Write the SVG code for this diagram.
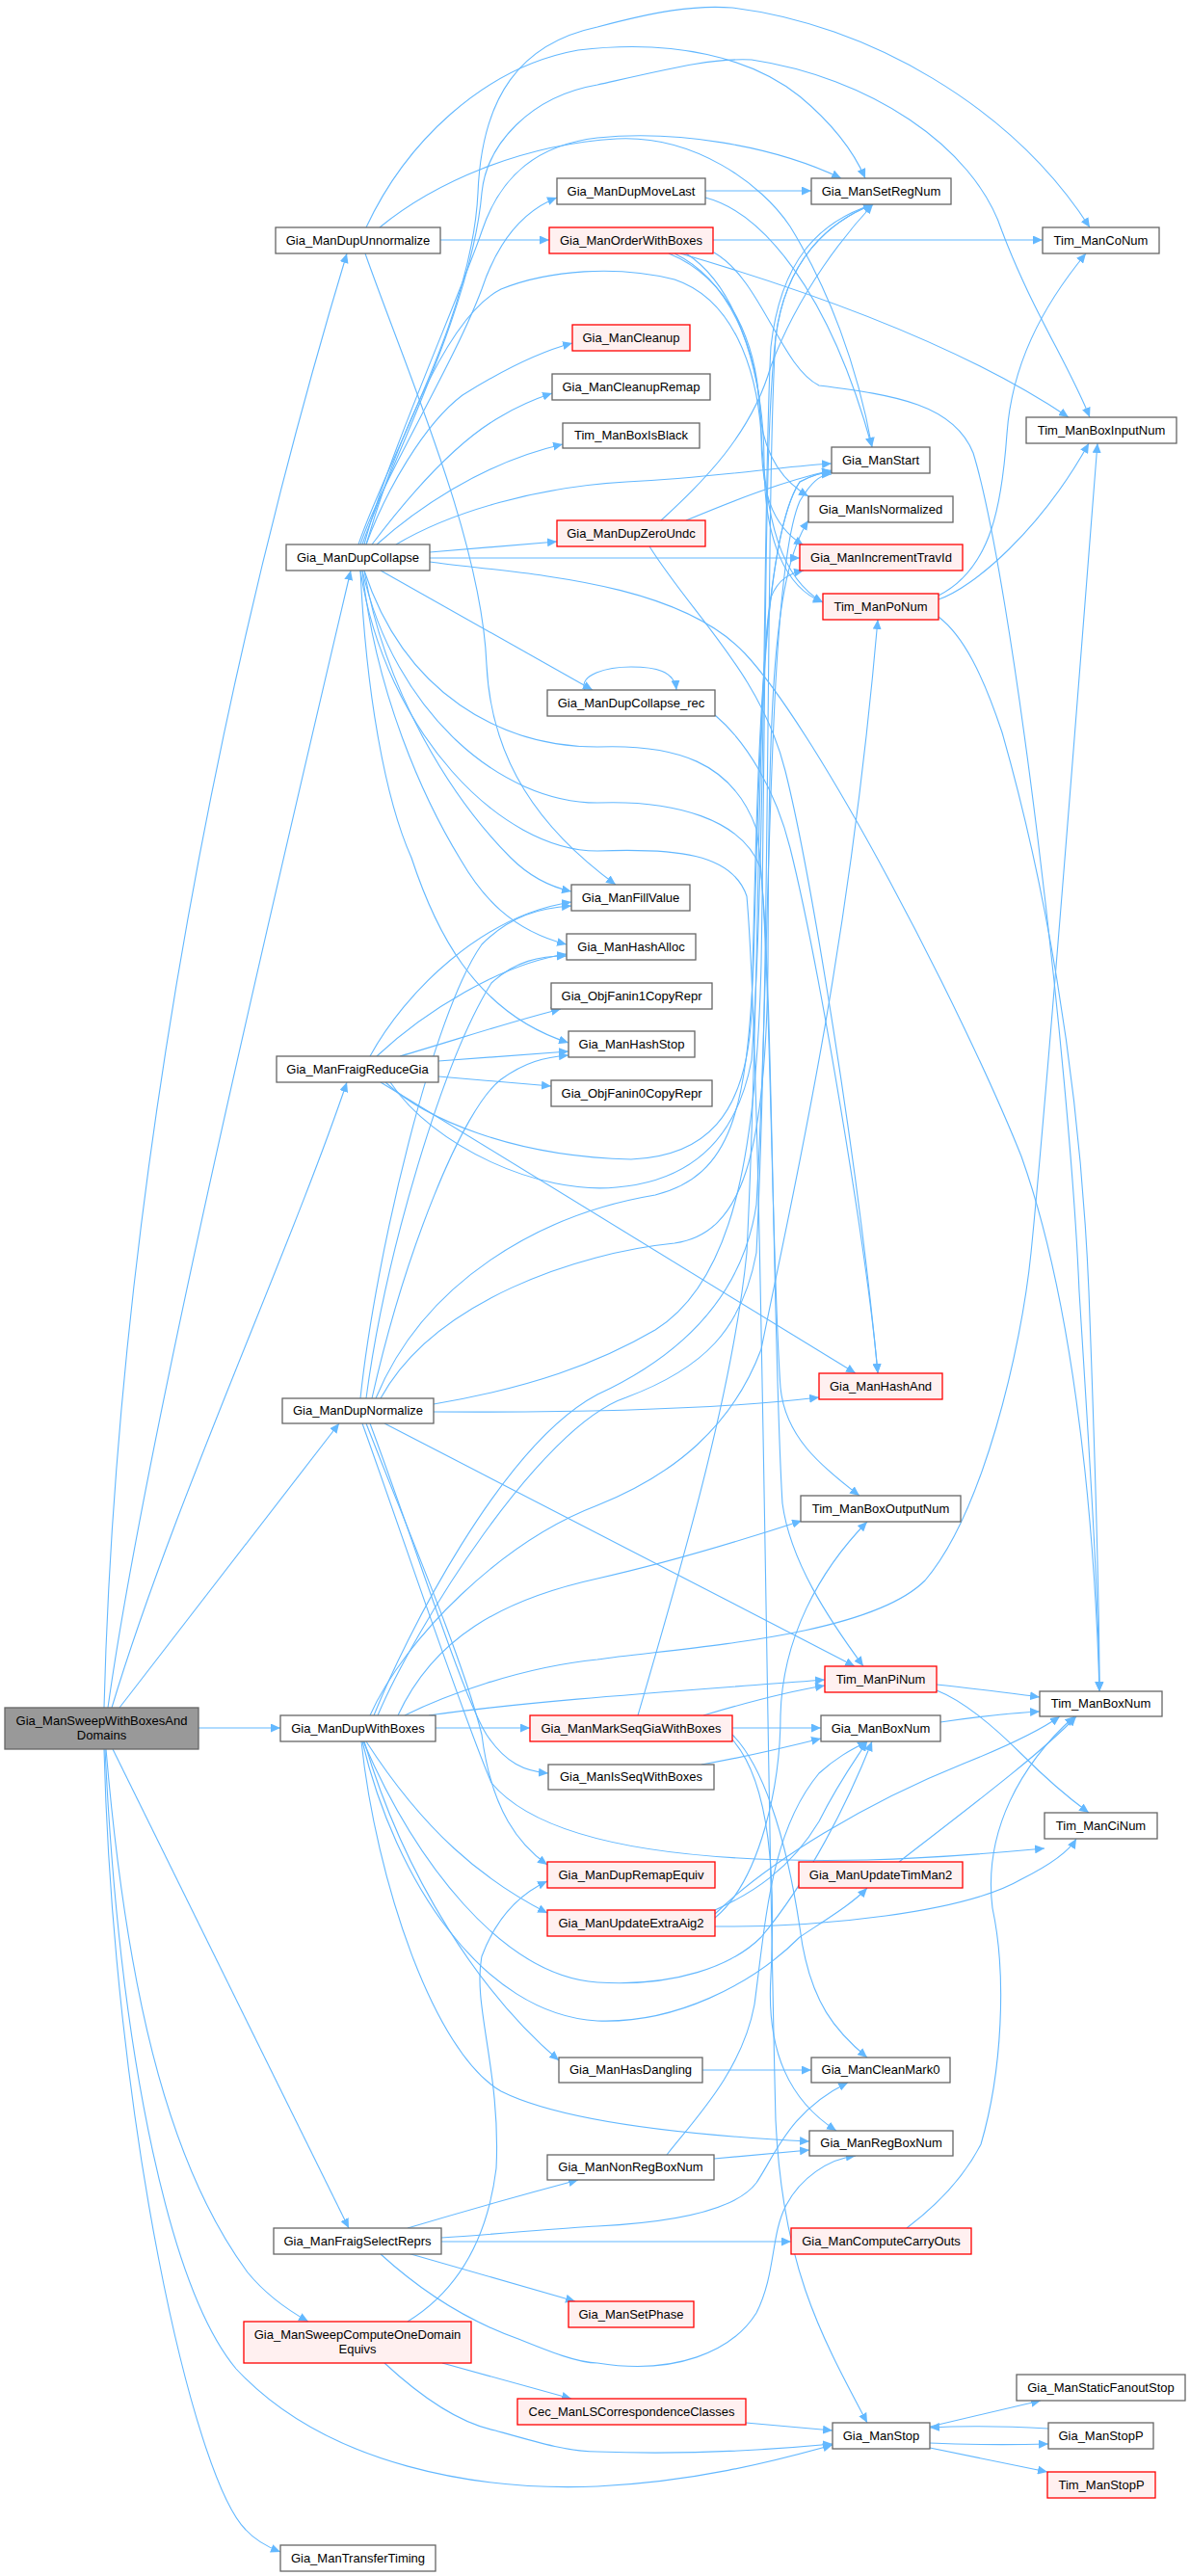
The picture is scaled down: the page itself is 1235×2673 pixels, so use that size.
<svg xmlns="http://www.w3.org/2000/svg" width="1235" height="2673" viewBox="0 0 1235 2673">
<defs>
<marker id="ah" markerWidth="11" markerHeight="9" refX="10" refY="4.5" orient="auto" markerUnits="userSpaceOnUse"><path d="M0,0 L10,4.5 L0,9 z" fill="#63b8ff"/></marker>
</defs>
<style>
.n rect{fill:#ffffff;stroke:#666666;stroke-width:1.3}
.r rect{fill:#fff0f0;stroke:#ff0000;stroke-width:1.3}
.root rect{fill:#999999;stroke:#666666;stroke-width:1.3}
text{font-family:"Liberation Sans",Arial,sans-serif;font-size:13px;fill:#000000;text-anchor:middle}
#edges path{fill:none;stroke:#63b8ff;stroke-width:1.1;marker-end:url(#ah)}
</style>
<rect width="1235" height="2673" fill="#ffffff"/>
<g id="edges">
<path d="M108,1772 C120,1300 210,760 360,263"/>
<path d="M112,1772 C150,1500 280,950 364,592"/>
<path d="M116,1772 C180,1560 300,1300 360,1123"/>
<path d="M124,1772 L352,1477"/>
<path d="M206,1793 L291,1793"/>
<path d="M117,1815 L362,2312"/>
<path d="M110,1815 C130,2050 170,2240 257,2358 C275,2380 295,2395 320,2409"/>
<path d="M109,1815 C125,2150 180,2380 245,2458 C340,2560 500,2585 620,2580 C720,2575 800,2555 864,2537"/>
<path d="M108,1815 C118,2200 200,2570 255,2625 C265,2636 278,2643 291,2648"/>
<path d="M457,249 L570,249"/>
<path d="M380,236 C420,150 500,70 600,52 C700,40 780,60 830,100 C860,125 885,155 898,185"/>
<path d="M394,236 C450,190 540,150 640,144 C720,140 790,190 820,235 C860,300 890,380 905,464"/>
<path d="M379,263 C420,380 500,560 505,690 C510,790 560,860 639,918"/>
<path d="M374,565 C395,500 470,380 500,300 C515,255 540,220 578,205"/>
<path d="M380,565 C400,510 440,440 480,410 C520,385 560,365 594,356"/>
<path d="M386,565 C420,520 470,460 520,432 C540,420 555,414 573,408"/>
<path d="M391,565 C430,530 500,480 584,461"/>
<path d="M446,573 L578,562"/>
<path d="M411,565 C470,530 560,505 650,500 C750,495 800,485 863,481"/>
<path d="M446,579 L830,579"/>
<path d="M446,583 C530,595 700,600 773,678 C850,760 1000,1050 1060,1200 C1110,1340 1135,1550 1141,1755"/>
<path d="M378,565 C400,480 480,300 500,240 C520,180 560,150 620,143 C700,135 800,150 873,185"/>
<path d="M372,565 C400,480 490,330 496,200 C500,100 540,45 620,28 C680,12 720,5 760,8 C900,25 1050,110 1131,236"/>
<path d="M376,565 C405,480 490,320 500,200 C505,150 550,100 620,88 C700,70 740,60 780,62 C900,80 1010,150 1040,240 C1070,320 1110,380 1131,433"/>
<path d="M395,592 L615,716"/>
<path d="M378,592 C400,720 470,830 530,890 C550,910 570,920 593,925"/>
<path d="M376,592 C390,720 440,830 478,892 C500,930 530,965 588,980"/>
<path d="M374,592 C380,720 400,830 427,890 C450,960 490,1050 590,1082"/>
<path d="M378,592 C420,720 520,775 620,775 C700,772 760,790 785,860 C800,950 800,1300 810,1440 C815,1490 850,1520 892,1552"/>
<path d="M376,592 C410,740 520,833 620,833 C700,830 770,850 789,900 C802,1000 802,1400 812,1560 C820,1620 860,1680 896,1729"/>
<path d="M374,592 C400,760 520,883 620,883 C700,880 760,885 775,930 C790,1100 795,1800 805,2200 C812,2350 850,2420 900,2514"/>
<path d="M380,565 C405,480 460,330 520,300 C570,280 640,275 700,290 C760,310 785,380 790,450 C795,540 810,600 854,625"/>
<path d="M607,716 C600,700 630,692 655,692 C680,692 700,696 702,716"/>
<path d="M740,249 L1082,249"/>
<path d="M706,263 C850,305 1000,360 1109,433"/>
<path d="M694,263 C760,290 785,360 788,420 C790,460 805,495 839,515"/>
<path d="M700,263 C765,295 790,380 790,450 C790,510 800,545 834,566"/>
<path d="M712,263 C770,300 793,400 793,480 C793,560 815,610 854,625"/>
<path d="M741,262 C790,290 810,380 850,400 C930,410 990,420 1010,470 C1050,600 1110,1100 1120,1340 C1130,1500 1140,1650 1141,1755"/>
<path d="M732,198 L842,198"/>
<path d="M732,205 C790,220 860,300 905,464"/>
<path d="M686,540 C730,500 780,450 800,380 C830,300 880,240 906,212"/>
<path d="M712,540 C760,520 810,500 863,488"/>
<path d="M674,567 C720,640 790,700 815,800 C840,900 890,1200 911,1425"/>
<path d="M742,742 C775,770 805,820 820,880 C850,1000 900,1300 911,1425"/>
<path d="M974,618 C1030,590 1040,520 1045,450 C1050,380 1080,320 1127,263"/>
<path d="M974,622 C1010,610 1080,550 1130,460"/>
<path d="M974,640 C1000,660 1020,700 1040,760 C1080,900 1120,1100 1130,1340 C1136,1500 1141,1650 1141,1755"/>
<path d="M384,1096 C420,1030 500,950 593,936"/>
<path d="M391,1096 C440,1050 520,1000 588,990"/>
<path d="M415,1096 C470,1080 530,1060 582,1047"/>
<path d="M455,1101 L590,1091"/>
<path d="M455,1117 L572,1127"/>
<path d="M395,1123 L888,1425"/>
<path d="M400,1123 C440,1160 530,1200 655,1203 C730,1200 775,1160 780,1050 C786,800 790,560 830,500 C845,492 855,490 863,490"/>
<path d="M405,1123 C450,1190 560,1240 640,1232 C720,1225 765,1180 780,1100 C795,900 792,500 800,360 C810,270 850,230 906,212"/>
<path d="M374,1451 C390,1300 450,1050 500,980 C530,950 560,942 593,940"/>
<path d="M380,1451 C400,1300 460,1100 510,1020 C535,997 560,992 588,992"/>
<path d="M386,1451 C420,1300 480,1150 520,1120 C545,1102 565,1097 590,1095"/>
<path d="M450,1465 C600,1466 750,1462 850,1450"/>
<path d="M399,1477 L887,1729"/>
<path d="M380,1477 C420,1580 480,1720 500,1800 C510,1880 540,1915 568,1935"/>
<path d="M376,1477 C420,1600 480,1780 510,1850 C560,1910 700,1934 900,1930 C980,1928 1040,1922 1084,1918"/>
<path d="M384,1477 C430,1600 480,1760 505,1800 C525,1830 545,1838 569,1840"/>
<path d="M450,1457 C550,1440 620,1415 680,1380 C760,1330 785,1200 790,1000 C795,700 793,450 805,350 C815,270 860,230 906,212"/>
<path d="M390,1451 C440,1330 560,1260 680,1240 C760,1220 775,1150 782,1000 C788,800 790,560 830,500 C845,492 855,490 863,490"/>
<path d="M395,1451 C450,1350 600,1300 700,1290 C770,1280 795,1200 797,1000 C798,750 800,600 839,540"/>
<path d="M452,1793 L550,1793"/>
<path d="M380,1807 C440,1900 500,1950 568,1985"/>
<path d="M378,1807 C420,1950 500,2070 580,2138"/>
<path d="M377,1807 C430,1930 520,2050 620,2057 C700,2062 760,2040 790,2010 C840,1950 880,1870 905,1807"/>
<path d="M376,1807 C410,1950 500,2090 620,2097 C700,2100 780,2060 830,2010 C860,1990 885,1975 900,1959"/>
<path d="M375,1807 C390,1950 450,2130 520,2170 C580,2200 700,2215 840,2222"/>
<path d="M413,1780 C450,1700 520,1660 620,1638 C700,1620 780,1595 832,1578"/>
<path d="M420,1780 C460,1760 540,1730 620,1722 C700,1710 900,1700 960,1640 C1020,1570 1060,1400 1070,1300 C1090,1100 1120,700 1139,460"/>
<path d="M445,1780 C550,1765 700,1755 856,1743"/>
<path d="M384,1780 C420,1700 520,1600 620,1562 C700,1530 760,1480 790,1400 C820,1250 880,1000 911,643"/>
<path d="M388,1780 C420,1700 520,1500 620,1447 C700,1410 770,1350 785,1250 C800,1000 795,600 830,520 C845,495 855,492 863,492"/>
<path d="M392,1780 C430,1690 560,1480 650,1450 C730,1420 770,1380 785,1300 C800,1000 795,500 805,350 C815,270 860,230 906,212"/>
<path d="M760,1793 L852,1793"/>
<path d="M730,1780 C780,1765 820,1755 856,1749"/>
<path d="M760,1800 C790,1830 815,1900 830,2000 C840,2080 870,2110 900,2135"/>
<path d="M760,1805 C800,1850 805,1950 800,2050 C795,2130 820,2180 868,2211"/>
<path d="M662,1780 C700,1650 760,1450 775,1300 C790,1000 785,700 800,620 C808,600 820,595 834,592"/>
<path d="M728,1831 C780,1822 820,1812 852,1804"/>
<path d="M742,1982 C780,1965 820,1940 850,1890 C870,1850 885,1830 900,1807"/>
<path d="M742,1986 C800,1930 900,1870 1000,1830 C1050,1810 1080,1795 1100,1781"/>
<path d="M742,1999 C850,2000 1000,1985 1060,1950 C1090,1935 1110,1920 1117,1908"/>
<path d="M742,1990 C790,1950 810,1850 810,1780 C812,1700 850,1630 900,1579"/>
<path d="M933,1932 C1000,1880 1080,1820 1117,1781"/>
<path d="M976,1787 C1010,1782 1040,1778 1079,1776"/>
<path d="M972,1748 C1010,1752 1040,1756 1079,1761"/>
<path d="M972,1754 C1000,1765 1030,1790 1060,1820 C1090,1850 1115,1870 1130,1881"/>
<path d="M729,2148 L842,2148"/>
<path d="M741,2240 L840,2231"/>
<path d="M692,2236 C720,2200 770,2150 783,2080 C795,1990 800,1900 850,1840 C870,1822 885,1815 900,1807"/>
<path d="M423,2312 C480,2295 540,2278 600,2262"/>
<path d="M458,2322 C520,2318 580,2312 620,2310 C680,2307 760,2298 785,2265 C805,2235 820,2190 880,2161"/>
<path d="M458,2326 L821,2326"/>
<path d="M423,2338 L597,2388"/>
<path d="M395,2339 C440,2380 490,2410 538,2427 C570,2440 600,2452 620,2452 C700,2465 760,2440 785,2400 C805,2360 800,2320 815,2290 C830,2260 860,2240 888,2237"/>
<path d="M423,2409 C470,2380 505,2330 515,2250 C520,2150 490,2080 500,2030 C515,1990 540,1965 568,1952"/>
<path d="M459,2452 L593,2489"/>
<path d="M399,2452 C440,2490 480,2515 514,2522 C560,2535 590,2544 620,2544 C700,2547 790,2543 864,2536"/>
<path d="M774,2514 L864,2522"/>
<path d="M941,2312 C970,2290 1000,2260 1018,2225 C1040,2150 1045,2050 1030,1980 C1020,1900 1060,1830 1115,1781"/>
<path d="M965,2518 L1080,2491"/>
<path d="M1088,2520 C1050,2518 1000,2517 965,2519"/>
<path d="M965,2535 C1010,2537 1050,2537 1088,2536"/>
<path d="M965,2540 L1087,2565"/>
</g>
<g id="n_root" class="root"><rect x="5" y="1772" width="201" height="43"/><text x="105.5" y="1790">Gia_ManSweepWithBoxesAnd</text><text x="105.5" y="1805">Domains</text></g>
<g id="n_unnorm" class="n"><rect x="286" y="236" width="171" height="27"/><text x="371.5" y="254">Gia_ManDupUnnormalize</text></g>
<g id="n_collapse" class="n"><rect x="297" y="565" width="149" height="27"/><text x="371.5" y="583">Gia_ManDupCollapse</text></g>
<g id="n_fraigReduce" class="n"><rect x="287" y="1096" width="168" height="27"/><text x="371" y="1114">Gia_ManFraigReduceGia</text></g>
<g id="n_normalize" class="n"><rect x="293" y="1451" width="157" height="26"/><text x="371.5" y="1468">Gia_ManDupNormalize</text></g>
<g id="n_dupWithBoxes" class="n"><rect x="291" y="1780" width="161" height="27"/><text x="371.5" y="1798">Gia_ManDupWithBoxes</text></g>
<g id="n_fraigSelect" class="n"><rect x="284" y="2312" width="174" height="27"/><text x="371" y="2330">Gia_ManFraigSelectReprs</text></g>
<g id="n_sweepCompute" class="r"><rect x="253" y="2409" width="236" height="43"/><text x="371" y="2427">Gia_ManSweepComputeOneDomain</text><text x="371" y="2442">Equivs</text></g>
<g id="n_transfer" class="n"><rect x="291" y="2641" width="161" height="27"/><text x="371.5" y="2659">Gia_ManTransferTiming</text></g>
<g id="n_moveLast" class="n"><rect x="578" y="185" width="154" height="27"/><text x="655" y="203">Gia_ManDupMoveLast</text></g>
<g id="n_orderWB" class="r"><rect x="570" y="236" width="170" height="27"/><text x="655" y="254">Gia_ManOrderWithBoxes</text></g>
<g id="n_cleanup" class="r"><rect x="594" y="337" width="122" height="27"/><text x="655" y="355">Gia_ManCleanup</text></g>
<g id="n_cleanupRemap" class="n"><rect x="573" y="388" width="164" height="27"/><text x="655" y="406">Gia_ManCleanupRemap</text></g>
<g id="n_boxIsBlack" class="n"><rect x="584" y="439" width="142" height="26"/><text x="655" y="456">Tim_ManBoxIsBlack</text></g>
<g id="n_zeroUndc" class="r"><rect x="578" y="540" width="154" height="27"/><text x="655" y="558">Gia_ManDupZeroUndc</text></g>
<g id="n_collapseRec" class="n"><rect x="568" y="716" width="174" height="27"/><text x="655" y="734">Gia_ManDupCollapse_rec</text></g>
<g id="n_fillValue" class="n"><rect x="593" y="918" width="123" height="27"/><text x="654.5" y="936">Gia_ManFillValue</text></g>
<g id="n_hashAlloc" class="n"><rect x="588" y="969" width="134" height="27"/><text x="655" y="987">Gia_ManHashAlloc</text></g>
<g id="n_fanin1" class="n"><rect x="572" y="1020" width="167" height="27"/><text x="655.5" y="1038">Gia_ObjFanin1CopyRepr</text></g>
<g id="n_hashStop" class="n"><rect x="590" y="1070" width="131" height="27"/><text x="655.5" y="1088">Gia_ManHashStop</text></g>
<g id="n_fanin0" class="n"><rect x="572" y="1121" width="167" height="27"/><text x="655.5" y="1139">Gia_ObjFanin0CopyRepr</text></g>
<g id="n_markSeq" class="r"><rect x="550" y="1780" width="210" height="27"/><text x="655" y="1798">Gia_ManMarkSeqGiaWithBoxes</text></g>
<g id="n_isSeq" class="n"><rect x="569" y="1831" width="172" height="26"/><text x="655" y="1848">Gia_ManIsSeqWithBoxes</text></g>
<g id="n_remapEquiv" class="r"><rect x="568" y="1932" width="174" height="27"/><text x="655" y="1950">Gia_ManDupRemapEquiv</text></g>
<g id="n_updateExtra" class="r"><rect x="568" y="1982" width="174" height="27"/><text x="655" y="2000">Gia_ManUpdateExtraAig2</text></g>
<g id="n_hasDangling" class="n"><rect x="580" y="2135" width="149" height="26"/><text x="654.5" y="2152">Gia_ManHasDangling</text></g>
<g id="n_nonReg" class="n"><rect x="568" y="2236" width="173" height="26"/><text x="654.5" y="2253">Gia_ManNonRegBoxNum</text></g>
<g id="n_setPhase" class="r"><rect x="590" y="2388" width="130" height="27"/><text x="655" y="2406">Gia_ManSetPhase</text></g>
<g id="n_cecLS" class="r"><rect x="537" y="2489" width="237" height="27"/><text x="655.5" y="2507">Cec_ManLSCorrespondenceClasses</text></g>
<g id="n_setRegNum" class="n"><rect x="842" y="185" width="145" height="27"/><text x="914.5" y="203">Gia_ManSetRegNum</text></g>
<g id="n_manStart" class="n"><rect x="863" y="464" width="102" height="27"/><text x="914" y="482">Gia_ManStart</text></g>
<g id="n_isNormalized" class="n"><rect x="839" y="515" width="150" height="27"/><text x="914" y="533">Gia_ManIsNormalized</text></g>
<g id="n_incTrav" class="r"><rect x="830" y="565" width="169" height="27"/><text x="914.5" y="583">Gia_ManIncrementTravId</text></g>
<g id="n_poNum" class="r"><rect x="854" y="616" width="120" height="27"/><text x="914" y="634">Tim_ManPoNum</text></g>
<g id="n_hashAnd" class="r"><rect x="850" y="1425" width="128" height="27"/><text x="914" y="1443">Gia_ManHashAnd</text></g>
<g id="n_boxOutputNum" class="n"><rect x="831" y="1552" width="166" height="27"/><text x="914" y="1570">Tim_ManBoxOutputNum</text></g>
<g id="n_piNum" class="r"><rect x="856" y="1729" width="116" height="27"/><text x="914" y="1747">Tim_ManPiNum</text></g>
<g id="n_gBoxNum" class="n"><rect x="852" y="1780" width="124" height="27"/><text x="914" y="1798">Gia_ManBoxNum</text></g>
<g id="n_updateTim" class="r"><rect x="829" y="1932" width="170" height="27"/><text x="914" y="1950">Gia_ManUpdateTimMan2</text></g>
<g id="n_cleanMark0" class="n"><rect x="842" y="2135" width="144" height="26"/><text x="914" y="2152">Gia_ManCleanMark0</text></g>
<g id="n_regBoxNum" class="n"><rect x="840" y="2211" width="149" height="26"/><text x="914.5" y="2228">Gia_ManRegBoxNum</text></g>
<g id="n_carryOuts" class="r"><rect x="821" y="2312" width="187" height="27"/><text x="914.5" y="2330">Gia_ManComputeCarryOuts</text></g>
<g id="n_manStop" class="n"><rect x="864" y="2514" width="101" height="27"/><text x="914.5" y="2532">Gia_ManStop</text></g>
<g id="n_coNum" class="n"><rect x="1082" y="236" width="121" height="27"/><text x="1142.5" y="254">Tim_ManCoNum</text></g>
<g id="n_boxInputNum" class="n"><rect x="1065" y="433" width="156" height="27"/><text x="1143" y="451">Tim_ManBoxInputNum</text></g>
<g id="n_tBoxNum" class="n"><rect x="1079" y="1755" width="127" height="26"/><text x="1142.5" y="1772">Tim_ManBoxNum</text></g>
<g id="n_ciNum" class="n"><rect x="1084" y="1881" width="117" height="27"/><text x="1142.5" y="1899">Tim_ManCiNum</text></g>
<g id="n_staticFanout" class="n"><rect x="1055" y="2464" width="175" height="27"/><text x="1142.5" y="2482">Gia_ManStaticFanoutStop</text></g>
<g id="n_stopP" class="n"><rect x="1088" y="2514" width="109" height="27"/><text x="1142.5" y="2532">Gia_ManStopP</text></g>
<g id="n_timStopP" class="r"><rect x="1087" y="2565" width="112" height="27"/><text x="1143" y="2583">Tim_ManStopP</text></g>
</svg>
